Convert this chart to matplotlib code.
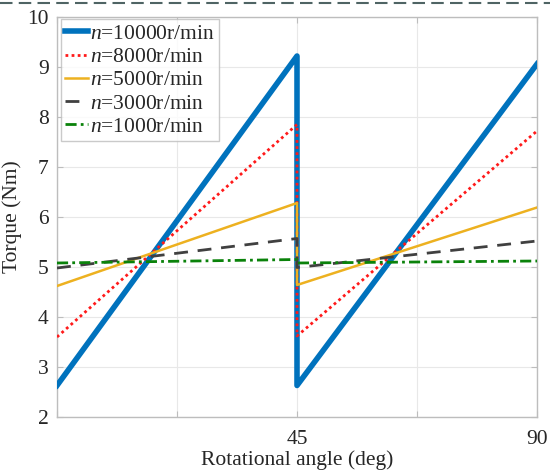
import matplotlib
matplotlib.use("Agg")
import matplotlib.pyplot as plt
from matplotlib.lines import Line2D

# Data
angle = [0, 45, 45, 90]
t10000 = [2.63, 9.22, 2.63, 9.06]
t8000 = [3.60, 7.85, 3.62, 7.72]
t5000 = [4.62, 6.28, 4.64, 6.19]
t3000 = [4.98, 5.57, 4.99, 5.52]
t1000 = [5.08, 5.15, 5.08, 5.12]
labels = ["$n$=10000r/min", "$n$=8000r/min", "$n$=5000r/min", "$n$=3000r/min", "$n$=1000r/min"]
xticks = [0, 22.5, 45, 67.5, 90]
xticklabels = ["", "", "45", "", "90"]
yticks = [2, 3, 4, 5, 6, 7, 8, 9, 10]

plt.rcParams['font.family'] = ['Liberation Serif', 'DejaVu Serif']
plt.rcParams['mathtext.fontset'] = 'custom'
plt.rcParams['mathtext.it'] = 'Liberation Serif:italic'
plt.rcParams['mathtext.rm'] = 'Liberation Serif'

fig = plt.figure(figsize=(5.5, 4.74), dpi=100)
ax = fig.add_axes([57/550, 1-417/474, 480/550, 400/474])

ax.plot(angle, t10000, color='#0072BD', lw=4.0, label=labels[0], zorder=3)
ax.plot(angle, t8000, color='#FF1A1A', lw=2.0, ls=(0, (1, 1.2)), label=labels[1], zorder=4)
ax.plot(angle, t5000, color='#EDB120', lw=1.8, label=labels[2], zorder=5)
ax.plot(angle, t3000, color='#404040', lw=2.0, ls=(0, (5, 3.5)), label=labels[3], zorder=6)
ax.plot(angle, t1000, color='#0A820A', lw=2.0, ls=(0, (4, 1.5, 1, 1.5)), label=labels[4], zorder=7)

ax.set_xlim(0, 90)
ax.set_ylim(2, 10)
ax.set_xticks(xticks)
ax.set_xticklabels(xticklabels)
ax.set_yticks(yticks)
ax.grid(True, color='#e8e8e8', lw=0.8)
ax.set_axisbelow(True)
for s in ax.spines.values():
    s.set_color('#bdbdbd')
    s.set_linewidth(1.0)
ax.tick_params(direction='in', length=4, color='#bdbdbd', labelsize=15.5,
               labelcolor='#262626', top=True, right=True)
ax.tick_params(axis='x', pad=9)
ax.tick_params(axis='y', pad=6)

ax.set_xlabel('Rotational angle (deg)', fontsize=15.5, color='#262626', labelpad=1)
ax.set_ylabel('Torque (Nm)', fontsize=15.5, color='#262626', labelpad=4)

leg = ax.legend(loc='upper left', bbox_to_anchor=(0.008, 0.994), fontsize=15.5,
                handlelength=1.05, handletextpad=0.12, borderpad=0.2,
                labelspacing=0.15, borderaxespad=0.0, frameon=True, fancybox=False)
leg.get_frame().set_edgecolor('#bdbdbd')
leg.get_frame().set_linewidth(1.0)
for t in leg.get_texts():
    t.set_color('#262626')

# dashed border at the top of the image
fig.add_artist(Line2D([0, 1], [1-3/474, 1-3/474], color='#4f6464', lw=1.5,
                      ls=(0, (6, 3)), transform=fig.transFigure))

fig.savefig('out.png', dpi=100)
